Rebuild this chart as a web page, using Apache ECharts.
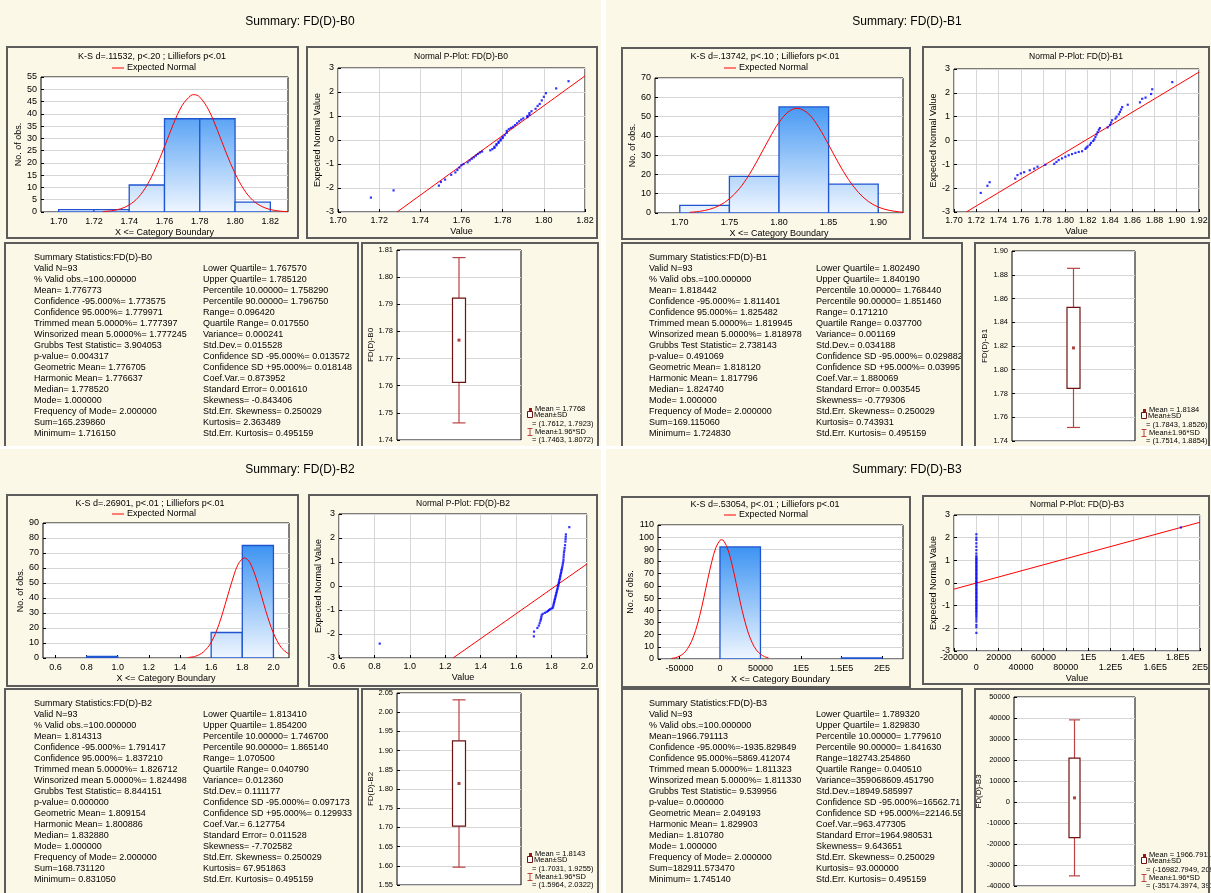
<!DOCTYPE html>
<html>
<head>
<meta charset="utf-8">
<script src="https://cdn.jsdelivr.net/npm/echarts@6/dist/echarts.min.js"></script>
<style>
html, body { margin: 0; padding: 0; background: #fff; }
#main { width: 1211px; height: 893px; }
</style>
</head>
<body>
<div id="main"></div>
<script>
// ---------------- data ----------------
var panelNames = ['FD(D)-B0', 'FD(D)-B1', 'FD(D)-B2', 'FD(D)-B3'];
var ksTitles = [
    'K-S d=.11532, p<.20 ; Lilliefors p<.01',
    'K-S d=.13742, p<.10 ; Lilliefors p<.01',
    'K-S d=.26901, p<.01 ; Lilliefors p<.01',
    'K-S d=.53054, p<.01 ; Lilliefors p<.01'
];

// histogram bins: edges and counts
var b0Edges = [1.70, 1.72, 1.74, 1.76, 1.78, 1.80, 1.82];
var b0Counts = [1, 1, 11, 38, 38, 4];
var b1Edges = [1.70, 1.75, 1.80, 1.85, 1.90];
var b1Counts = [4, 19, 55, 15];
var b2Edges = [0.8, 1.0, 1.2, 1.4, 1.6, 1.8, 2.0];
var b2Counts = [1, 0, 0, 0, 17, 75];
var b3Edges = [0, 50000, 100000, 150000, 200000];
var b3Counts = [92, 0, 0, 1];

// histogram x tick values and labels
var b0HistTicks = [1.70, 1.72, 1.74, 1.76, 1.78, 1.80, 1.82];
var b0HistLabels = ['1.70', '1.72', '1.74', '1.76', '1.78', '1.80', '1.82'];
var b1HistTicks = [1.70, 1.75, 1.80, 1.85, 1.90];
var b1HistLabels = ['1.70', '1.75', '1.80', '1.85', '1.90'];
var b2HistTicks = [0.6, 0.8, 1.0, 1.2, 1.4, 1.6, 1.8, 2.0];
var b2HistLabels = ['0.6', '0.8', '1.0', '1.2', '1.4', '1.6', '1.8', '2.0'];
var b3HistTicks = [-50000, 0, 50000, 100000, 150000, 200000];
var b3HistLabels = ['-50000', '0', '50000', '1E5', '1.5E5', '2E5'];

// expected normal curves
var b0CurveX = [1.725, 1.730, 1.735, 1.740, 1.745, 1.750, 1.755, 1.760, 1.765, 1.770, 1.775, 1.7768, 1.780, 1.785, 1.790, 1.795, 1.800, 1.805, 1.810, 1.815, 1.820, 1.825, 1.830];
var b0CurveY = [0.18, 0.51, 1.27, 2.87, 5.85, 10.8, 17.9, 26.6, 35.8, 43.4, 47.5, 47.8, 46.8, 41.6, 33.3, 24.0, 15.7, 9.2, 4.8, 2.3, 1.0, 0.39, 0.13];
var b1CurveX = [1.71, 1.72, 1.73, 1.74, 1.75, 1.76, 1.77, 1.78, 1.79, 1.80, 1.81, 1.8184, 1.83, 1.84, 1.85, 1.86, 1.87, 1.88, 1.89, 1.90, 1.91, 1.92, 1.925];
var b1CurveY = [0.35, 0.86, 1.92, 3.91, 7.35, 12.6, 19.9, 28.9, 38.4, 47.0, 52.7, 54.3, 51.3, 44.5, 35.4, 25.9, 17.4, 10.7, 6.0, 3.1, 1.5, 0.65, 0.42];
var b2CurveX = [1.45, 1.50, 1.55, 1.60, 1.65, 1.70, 1.75, 1.78, 1.8143, 1.85, 1.90, 1.95, 2.00, 2.05, 2.10];
var b2CurveY = [0.32, 1.2, 4.0, 10.4, 22.4, 39.3, 56.5, 63.6, 66.7, 63.4, 49.6, 31.7, 16.6, 7.0, 2.5];
var b3CurveX = [-60000, -55000, -50000, -45000, -40000, -35000, -30000, -25000, -20000, -15000, -10000, -5000, 0, 1967, 5000, 10000, 15000, 20000, 25000, 30000, 35000, 40000, 45000, 50000, 55000, 60000];
var b3CurveY = [0.46, 1.07, 2.3, 4.5, 8.5, 14.6, 23.6, 35.6, 50.0, 65.6, 80.2, 91.5, 97.4, 97.9, 96.7, 89.5, 77.3, 62.2, 46.8, 32.8, 21.4, 13.0, 7.4, 3.97, 1.95, 0.9];

// normal probability plots: [value, expected normal value]
var b0Pplot = [[1.716,-2.4],[1.727,-2.1],[1.749,-1.9],[1.750,-1.75],[1.752,-1.65],[1.755,-1.45],[1.757,-1.35],[1.758,-1.25],[1.759,-1.15],[1.760,-1.05],[1.761,-1.0],[1.763,-0.93],[1.764,-0.85],[1.765,-0.78],[1.766,-0.72],[1.767,-0.65],[1.768,-0.58],[1.769,-0.52],[1.770,-0.48],[1.774,-0.43],[1.775,-0.38],[1.776,-0.33],[1.776,-0.28],[1.777,-0.22],[1.777,-0.17],[1.778,-0.12],[1.778,-0.07],[1.779,-0.02],[1.779,0.03],[1.780,0.08],[1.780,0.13],[1.781,0.2],[1.782,0.3],[1.782,0.38],[1.783,0.45],[1.784,0.5],[1.785,0.55],[1.786,0.62],[1.787,0.7],[1.788,0.78],[1.789,0.85],[1.790,0.9],[1.792,0.95],[1.792,1.0],[1.793,1.05],[1.793,1.12],[1.794,1.2],[1.796,1.3],[1.797,1.42],[1.798,1.5],[1.799,1.65],[1.800,1.8],[1.801,1.95],[1.806,2.15],[1.812,2.45]];
var b1Pplot = [[1.724,-2.2],[1.730,-1.9],[1.732,-1.75],[1.755,-1.6],[1.757,-1.45],[1.760,-1.38],[1.763,-1.33],[1.768,-1.25],[1.772,-1.18],[1.775,-1.1],[1.782,-1.02],[1.790,-0.98],[1.792,-0.9],[1.794,-0.82],[1.797,-0.75],[1.800,-0.68],[1.803,-0.62],[1.806,-0.57],[1.809,-0.52],[1.812,-0.48],[1.815,-0.45],[1.818,-0.35],[1.819,-0.3],[1.820,-0.25],[1.822,-0.18],[1.823,-0.1],[1.825,-0.02],[1.826,0.05],[1.827,0.15],[1.828,0.25],[1.829,0.35],[1.830,0.45],[1.831,0.52],[1.838,0.55],[1.840,0.65],[1.841,0.75],[1.842,0.85],[1.845,0.92],[1.846,1.0],[1.848,1.1],[1.849,1.2],[1.850,1.3],[1.851,1.4],[1.856,1.5],[1.867,1.6],[1.869,1.75],[1.872,1.8],[1.877,1.95],[1.878,2.15],[1.896,2.45]];
var b2Pplot = [[0.83,-2.4],[1.70,-2.1],[1.701,-1.9],[1.72,-1.75],[1.728,-1.65],[1.733,-1.55],[1.737,-1.45],[1.74,-1.38],[1.742,-1.3],[1.744,-1.22],[1.75,-1.16],[1.762,-1.12],[1.772,-1.08],[1.78,-1.04],[1.786,-1.0],[1.792,-0.97],[1.8,-0.94],[1.806,-0.91],[1.809,-0.85],[1.811,-0.78],[1.813,-0.72],[1.815,-0.66],[1.817,-0.6],[1.819,-0.54],[1.821,-0.48],[1.823,-0.42],[1.825,-0.36],[1.827,-0.3],[1.829,-0.24],[1.831,-0.18],[1.833,-0.12],[1.835,-0.06],[1.837,0.0],[1.839,0.06],[1.841,0.12],[1.842,0.18],[1.844,0.24],[1.846,0.3],[1.848,0.36],[1.849,0.42],[1.851,0.48],[1.853,0.54],[1.855,0.6],[1.856,0.66],[1.858,0.72],[1.86,0.78],[1.862,0.86],[1.864,0.94],[1.866,1.02],[1.867,1.1],[1.868,1.2],[1.869,1.3],[1.87,1.4],[1.872,1.48],[1.874,1.58],[1.876,1.7],[1.878,1.85],[1.879,1.95],[1.88,2.05],[1.881,2.15],[1.9,2.45]];
var b3Pplot = [[1.745,-2.2],[1.752,-1.95],[1.758,-1.85],[1.762,-1.7],[1.766,-1.6],[1.769,-1.5],[1.772,-1.42],[1.775,-1.35],[1.777,-1.28],[1.779,-1.22],[1.781,-1.16],[1.783,-1.1],[1.785,-1.04],[1.787,-0.98],[1.789,-0.92],[1.791,-0.86],[1.793,-0.8],[1.795,-0.74],[1.797,-0.68],[1.799,-0.62],[1.801,-0.56],[1.803,-0.5],[1.805,-0.44],[1.807,-0.38],[1.808,-0.32],[1.809,-0.26],[1.810,-0.2],[1.811,-0.14],[1.812,-0.08],[1.813,-0.02],[1.814,0.04],[1.815,0.1],[1.817,0.16],[1.818,0.22],[1.819,0.28],[1.820,0.34],[1.822,0.4],[1.823,0.46],[1.824,0.52],[1.826,0.58],[1.827,0.64],[1.828,0.7],[1.830,0.76],[1.831,0.82],[1.833,0.88],[1.834,0.94],[1.836,1.0],[1.838,1.06],[1.839,1.12],[1.841,1.18],[1.843,1.3],[1.846,1.45],[1.849,1.6],[1.852,1.75],[1.856,1.9],[1.86,2.0],[1.866,2.15],[182911.57,2.45]];

// reference lines of the P-plots (two end points each)
var b0RefLine = [[1.7287, -3], [1.82, 2.67]];
var b1RefLine = [[1.711, -3], [1.92, 2.87]];
var b2RefLine = [[1.244, -3], [2.0, 0.92]];
var b3RefLine = [[-20000, -0.27], [200000, 2.68]];

var b3PplotLabels = ['-20000', '0', '20000', '40000', '60000', '80000', '1E5', '1.2E5', '1.4E5', '1.6E5', '1.8E5', '2E5'];

// box plots: mean-1.96SD, mean-SD, mean, mean+SD, mean+1.96SD
var b0BoxVals = [1.7463, 1.7612, 1.7768, 1.7923, 1.8072];
var b1BoxVals = [1.7514, 1.7843, 1.8184, 1.8526, 1.8854];
var b2BoxVals = [1.5964, 1.7031, 1.8143, 1.9255, 2.0322];
var b3BoxVals = [-35174.3974, -16982.7949, 1966.7911, 20916.3771, 39107.9797];

// summary statistics texts
var b0StatsLeft = ['Summary Statistics:FD(D)-B0', 'Valid N=93', '% Valid obs.=100.000000', 'Mean= 1.776773', 'Confidence -95.000%= 1.773575', 'Confidence 95.000%= 1.779971', 'Trimmed mean 5.0000%= 1.777397', 'Winsorized mean 5.0000%= 1.777245', 'Grubbs Test Statistic= 3.904053', 'p-value= 0.004317', 'Geometric Mean= 1.776705', 'Harmonic Mean= 1.776637', 'Median= 1.778520', 'Mode= 1.000000', 'Frequency of Mode= 2.000000', 'Sum=165.239860', 'Minimum= 1.716150'];
var b0StatsRight = ['Lower Quartile= 1.767570', 'Upper Quartile= 1.785120', 'Percentile 10.00000= 1.758290', 'Percentile 90.00000= 1.796750', 'Range= 0.096420', 'Quartile Range= 0.017550', 'Variance= 0.000241', 'Std.Dev.= 0.015528', 'Confidence SD -95.000%= 0.013572', 'Confidence SD +95.000%= 0.018148', 'Coef.Var.= 0.873952', 'Standard Error= 0.001610', 'Skewness= -0.843406', 'Std.Err. Skewness= 0.250029', 'Kurtosis= 2.363489', 'Std.Err. Kurtosis= 0.495159'];
var b1StatsLeft = ['Summary Statistics:FD(D)-B1', 'Valid N=93', '% Valid obs.=100.000000', 'Mean= 1.818442', 'Confidence -95.000%= 1.811401', 'Confidence 95.000%= 1.825482', 'Trimmed mean 5.0000%= 1.819945', 'Winsorized mean 5.0000%= 1.818978', 'Grubbs Test Statistic= 2.738143', 'p-value= 0.491069', 'Geometric Mean= 1.818120', 'Harmonic Mean= 1.817796', 'Median= 1.824740', 'Mode= 1.000000', 'Frequency of Mode= 2.000000', 'Sum=169.115060', 'Minimum= 1.724830'];
var b1StatsRight = ['Lower Quartile= 1.802490', 'Upper Quartile= 1.840190', 'Percentile 10.00000= 1.768440', 'Percentile 90.00000= 1.851460', 'Range= 0.171210', 'Quartile Range= 0.037700', 'Variance= 0.001169', 'Std.Dev.= 0.034188', 'Confidence SD -95.000%= 0.029882', 'Confidence SD +95.000%= 0.039956', 'Coef.Var.= 1.880069', 'Standard Error= 0.003545', 'Skewness= -0.779306', 'Std.Err. Skewness= 0.250029', 'Kurtosis= 0.743931', 'Std.Err. Kurtosis= 0.495159'];
var b2StatsLeft = ['Summary Statistics:FD(D)-B2', 'Valid N=93', '% Valid obs.=100.000000', 'Mean= 1.814313', 'Confidence -95.000%= 1.791417', 'Confidence 95.000%= 1.837210', 'Trimmed mean 5.0000%= 1.826712', 'Winsorized mean 5.0000%= 1.824498', 'Grubbs Test Statistic= 8.844151', 'p-value= 0.000000', 'Geometric Mean= 1.809154', 'Harmonic Mean= 1.800886', 'Median= 1.832880', 'Mode= 1.000000', 'Frequency of Mode= 2.000000', 'Sum=168.731120', 'Minimum= 0.831050'];
var b2StatsRight = ['Lower Quartile= 1.813410', 'Upper Quartile= 1.854200', 'Percentile 10.00000= 1.746700', 'Percentile 90.00000= 1.865140', 'Range= 1.070500', 'Quartile Range= 0.040790', 'Variance= 0.012360', 'Std.Dev.= 0.111177', 'Confidence SD -95.000%= 0.097173', 'Confidence SD +95.000%= 0.129933', 'Coef.Var.= 6.127754', 'Standard Error= 0.011528', 'Skewness= -7.702582', 'Std.Err. Skewness= 0.250029', 'Kurtosis= 67.951863', 'Std.Err. Kurtosis= 0.495159'];
var b3StatsLeft = ['Summary Statistics:FD(D)-B3', 'Valid N=93', '% Valid obs.=100.000000', 'Mean=1966.791113', 'Confidence -95.000%=-1935.829849', 'Confidence 95.000%=5869.412074', 'Trimmed mean 5.0000%= 1.811323', 'Winsorized mean 5.0000%= 1.811330', 'Grubbs Test Statistic= 9.539956', 'p-value= 0.000000', 'Geometric Mean= 2.049193', 'Harmonic Mean= 1.829903', 'Median= 1.810780', 'Mode= 1.000000', 'Frequency of Mode= 2.000000', 'Sum=182911.573470', 'Minimum= 1.745140'];
var b3StatsRight = ['Lower Quartile= 1.789320', 'Upper Quartile= 1.829830', 'Percentile 10.00000= 1.779610', 'Percentile 90.00000= 1.841630', 'Range=182743.254860', 'Quartile Range= 0.040510', 'Variance=359068609.451790', 'Std.Dev.=18949.585997', 'Confidence SD -95.000%=16562.716183', 'Confidence SD +95.000%=22146.592054', 'Coef.Var.=963.477305', 'Standard Error=1964.980531', 'Skewness= 9.643651', 'Std.Err. Skewness= 0.250029', 'Kurtosis= 93.000000', 'Std.Err. Kurtosis= 0.495159'];

// ---------------- layout ----------------
var FONT = '"Liberation Sans", Arial, Helvetica, sans-serif';
var BG = '#fcf8e7';
var LINE_H = 11;

var layouts = [
    { title: [300, 22], frames: [[7, 47, 291, 191], [307, 47, 290, 191], [5, 243, 353, 204], [362, 243, 236, 204]],
      hist: [41, 77, 247, 135], pplot: [338, 68, 247, 144], box: [397, 250, 124, 190],
      ks: [152, 57], leg: [112, 68], ptitle: [461, 57], stats: [34, 252], statsRight: [203, 154],
      gaps: { hy: 18, hx: 15, py: 14, px: 15, by: 21 }, boxW: 13 },
    { title: [907, 22], frames: [[622, 48, 288, 191], [923, 47, 286, 191], [622, 243, 340, 204], [975, 243, 234, 204]],
      hist: [655, 78, 248, 135], pplot: [954, 69, 245, 143], box: [1012, 251, 123, 190],
      ks: [765, 57], leg: [724, 68], ptitle: [1076, 57], stats: [649, 252], statsRight: [816, 148],
      gaps: { hy: 16, hx: 15, py: 15, px: 15, by: 23 }, boxW: 13 },
    { title: [300, 470], frames: [[7, 495, 291, 191], [309, 495, 288, 191], [5, 689, 353, 210], [362, 689, 236, 210]],
      hist: [43, 523, 246, 135], pplot: [339, 514, 248, 144], box: [397, 693, 124, 192],
      ks: [150, 504], leg: [112, 514], ptitle: [463, 504], stats: [34, 698], statsRight: [203, 154],
      gaps: { hy: 18, hx: 15, py: 13, px: 15, by: 21 }, boxW: 13 },
    { title: [907, 470], frames: [[622, 497, 288, 190], [923, 496, 286, 188], [622, 689, 340, 210], [975, 689, 234, 210]],
      hist: [658, 525, 245, 134], pplot: [954, 515, 246, 136], box: [1014, 697, 121, 189],
      ks: [765, 505], leg: [724, 515], ptitle: [1077, 505], stats: [649, 698], statsRight: [816, 148],
      gaps: { hy: 20, hx: 15, py: 15, px: 23, by: 23 }, boxW: 11 }
];

var allEdges = [b0Edges, b1Edges, b2Edges, b3Edges];
var allCounts = [b0Counts, b1Counts, b2Counts, b3Counts];
var histRange = [[1.69, 1.83], [1.675, 1.925], [0.52, 2.1], [-76500, 226000]];
var histYMax = [55, 70, 90, 110];
var histYStep = [5, 10, 10, 10];
var histTicks = [b0HistTicks, b1HistTicks, b2HistTicks, b3HistTicks];
var histLabels = [b0HistLabels, b1HistLabels, b2HistLabels, b3HistLabels];
var curveX = [b0CurveX, b1CurveX, b2CurveX, b3CurveX];
var curveY = [b0CurveY, b1CurveY, b2CurveY, b3CurveY];
var pplots = [b0Pplot, b1Pplot, b2Pplot, b3Pplot];
var refLines = [b0RefLine, b1RefLine, b2RefLine, b3RefLine];
var pplotRange = [[1.70, 1.82, 0.02], [1.70, 1.92, 0.02], [0.6, 2.0, 0.2], [-20000, 200000, 20000]];
var boxVals = [b0BoxVals, b1BoxVals, b2BoxVals, b3BoxVals];
var boxRange = [[1.74, 1.81, 0.01], [1.74, 1.90, 0.02], [1.55, 2.05, 0.05], [-40000, 50000, 10000]];
var statsLeft = [b0StatsLeft, b1StatsLeft, b2StatsLeft, b3StatsLeft];
var statsRight = [b0StatsRight, b1StatsRight, b2StatsRight, b3StatsRight];

// ---------------- build ----------------
var grid = [], xAxis = [], yAxis = [], series = [], graphics = [];

function addGrid(r) {
    grid.push({ left: r[0], top: r[1], width: r[2], height: r[3], show: true, backgroundColor: '#fff',
        borderColor: '#000', borderWidth: 1, containLabel: false, outerBoundsMode: 'none' });
    return grid.length - 1;
}

function valueAxis(gi, o) {
    var ax = {
        type: 'value', gridIndex: gi, min: o.min, max: o.max,
        axisLine: { show: false, onZero: false },
        axisTick: { show: true, inside: true, length: 3, lineStyle: { color: '#000' } },
        axisLabel: { fontFamily: FONT, fontSize: o.fontSize || 9, color: '#000', margin: o.margin || 4,
            formatter: o.formatter, showMinLabel: true, showMaxLabel: true, lineHeight: o.lineHeight || 11 },
        splitLine: o.split ? { show: true, lineStyle: { color: '#d6d6d6', width: 1 } } : { show: false },
        name: o.name || '', nameLocation: 'middle', nameGap: o.gap || 15,
        nameTextStyle: { fontFamily: FONT, fontSize: o.nameSize || 9, color: '#000' }
    };
    if (o.interval != null) ax.interval = o.interval;
    if (o.ticks) {
        ax.axisTick.customValues = o.ticks;
        ax.axisLabel.customValues = o.ticks;
    }
    return ax;
}

function lookupLabel(ticks, labels) {
    return function (v) {
        for (var i = 0; i < ticks.length; i++) {
            if (Math.abs(ticks[i] - v) < 1e-6 * (1 + Math.abs(v))) return labels[i];
        }
        return '';
    };
}

function fixed(d) { return function (v) { return v.toFixed(d); }; }

function renderBin(params, api) {
    var lo = api.coord([api.value(0), 0]);
    var hi = api.coord([api.value(1), api.value(2)]);
    var cs = params.coordSys;
    return {
        type: 'rect',
        shape: { x: lo[0], y: hi[1], width: hi[0] - lo[0], height: lo[1] - hi[1] },
        style: {
            fill: new echarts.graphic.LinearGradient(0, cs.y, 0, cs.y + cs.height,
                [{ offset: 0, color: '#1a80f0' }, { offset: 1, color: '#eff6ff' }], true),
            stroke: '#1f55d0', lineWidth: 1.3
        }
    };
}

// box: whiskers (mean +-1.96 SD) and box (mean +- SD)
function makeBoxRenderer(w) {
    return function (params, api) {
        var c = api.coord([api.value(0), api.value(1)]);
        var x = c[0];
        var yWl = c[1];
        var yBl = api.coord([api.value(0), api.value(2)])[1];
        var yBh = api.coord([api.value(0), api.value(4)])[1];
        var yWh = api.coord([api.value(0), api.value(5)])[1];
        var wStyle = { stroke: '#b84444', lineWidth: 1.2 };
        return {
            type: 'group',
            children: [
                { type: 'line', shape: { x1: x, y1: yWl, x2: x, y2: yBl }, style: wStyle },
                { type: 'line', shape: { x1: x, y1: yBh, x2: x, y2: yWh }, style: wStyle },
                { type: 'line', shape: { x1: x - w / 2, y1: yWl, x2: x + w / 2, y2: yWl }, style: wStyle },
                { type: 'line', shape: { x1: x - w / 2, y1: yWh, x2: x + w / 2, y2: yWh }, style: wStyle },
                { type: 'rect', shape: { x: x - w / 2, y: yBh, width: w, height: yBl - yBh },
                  style: { fill: '#fff', stroke: '#6e1212', lineWidth: 1.2 } }
            ]
        };
    };
}

function txt(x, y, s, size, align, extra) {
    var st = { text: s, fill: '#000', fontFamily: FONT, fontSize: size,
        align: align || 'center', textAlign: align || 'center',
        verticalAlign: 'middle', textVerticalAlign: 'middle' };
    for (var k in extra || {}) st[k] = extra[k];
    return { type: 'text', x: x, y: y, z: 5, silent: true, style: st };
}

// quadrant backgrounds
[[0, 0, 601, 446], [606, 0, 605, 446], [0, 449, 601, 444], [606, 449, 605, 444]].forEach(function (r) {
    graphics.push({ type: 'rect', z: -100, silent: true, shape: { x: r[0], y: r[1], width: r[2], height: r[3] }, style: { fill: BG } });
});

for (var p = 0; p < 4; p++) {
    var L = layouts[p];

    // ---- histogram ----
    var gh = addGrid(L.hist);
    xAxis.push(valueAxis(gh, { min: histRange[p][0], max: histRange[p][1], ticks: histTicks[p],
        formatter: lookupLabel(histTicks[p], histLabels[p]), name: 'X <= Category Boundary', gap: L.gaps.hx }));
    yAxis.push(valueAxis(gh, { min: 0, max: histYMax[p], interval: histYStep[p], split: true,
        name: 'No. of obs.', gap: L.gaps.hy }));
    var bins = [];
    for (var i = 0; i < allCounts[p].length; i++) {
        if (allCounts[p][i] > 0) bins.push([allEdges[p][i], allEdges[p][i + 1], allCounts[p][i]]);
    }
    series.push({ type: 'custom', xAxisIndex: gh, yAxisIndex: gh, renderItem: renderBin, data: bins,
        encode: { x: [0, 1], y: 2 }, clip: true, silent: true });
    var curve = curveX[p].map(function (x, j) { return [x, curveY[p][j]]; });
    series.push({ type: 'line', xAxisIndex: gh, yAxisIndex: gh, data: curve, smooth: 0.35, showSymbol: false,
        lineStyle: { color: '#ff0000', width: 1 }, clip: true, silent: true, z: 4 });

    // ---- normal p-plot ----
    var gp = addGrid(L.pplot);
    var pr = pplotRange[p];
    var pfmt = p < 2 ? fixed(2) : (p === 2 ? fixed(1) : function (v) {
        var idx = Math.round((v - (-20000)) / 20000);
        var s = b3PplotLabels[idx] || '';
        return idx % 2 === 1 ? '\n' + s : s;
    });
    xAxis.push(valueAxis(gp, { min: pr[0], max: pr[1], interval: pr[2], split: true, formatter: pfmt,
        name: 'Value', gap: L.gaps.px, margin: p === 3 ? 2 : 4, lineHeight: 10 }));
    yAxis.push(valueAxis(gp, { min: -3, max: 3, interval: 1, split: true, name: 'Expected Normal Value', gap: L.gaps.py }));
    series.push({ type: 'line', xAxisIndex: gp, yAxisIndex: gp, data: refLines[p], showSymbol: false,
        lineStyle: { color: '#ff0000', width: 1 }, silent: true, z: 3 });
    series.push({ type: 'scatter', xAxisIndex: gp, yAxisIndex: gp, data: pplots[p], symbol: 'rect', symbolSize: 2.2,
        itemStyle: { color: '#0000ff' }, silent: true, z: 4 });

    // ---- box plot ----
    var gb = addGrid(L.box);
    var br = boxRange[p];
    var bv = boxVals[p];
    xAxis.push({ type: 'category', gridIndex: gb, data: [''], axisLine: { show: false, onZero: false }, axisTick: { show: false },
        axisLabel: { show: false }, splitLine: { show: false } });
    yAxis.push(valueAxis(gb, { min: br[0], max: br[1], interval: br[2], split: true, fontSize: 7.5, margin: 4,
        formatter: p === 3 ? function (v) { return String(v); } : fixed(2),
        name: panelNames[p], nameSize: 8, gap: L.gaps.by }));
    series.push({ type: 'custom', xAxisIndex: gb, yAxisIndex: gb, renderItem: makeBoxRenderer(L.boxW),
        data: [[0, bv[0], bv[1], bv[2], bv[3], bv[4]]], encode: { x: 0, y: [1, 2, 3, 4, 5] }, silent: true, z: 3 });
    series.push({ type: 'scatter', xAxisIndex: gb, yAxisIndex: gb, data: [[0, bv[2]]], symbol: 'rect', symbolSize: 3,
        itemStyle: { color: '#9a1515' }, silent: true, z: 4 });

    // ---- frames and texts ----
    L.frames.forEach(function (r) {
        graphics.push({ type: 'rect', z: 6, silent: true, shape: { x: r[0], y: r[1], width: r[2], height: r[3] },
            style: { fill: 'none', stroke: '#5c5c5c', lineWidth: 2 } });
    });
    graphics.push(txt(L.title[0], L.title[1], 'Summary: ' + panelNames[p], 12));
    graphics.push(txt(L.ks[0], L.ks[1], ksTitles[p], 9));
    graphics.push({ type: 'line', z: 5, silent: true, shape: { x1: L.leg[0], y1: L.leg[1], x2: L.leg[0] + 12, y2: L.leg[1] },
        style: { stroke: '#ff0000', lineWidth: 1 } });
    graphics.push(txt(L.leg[0] + 15, L.leg[1], 'Expected Normal', 9, 'left'));
    graphics.push(txt(L.ptitle[0], L.ptitle[1], 'Normal P-Plot: ' + panelNames[p], 8.5));

    graphics.push(txt(L.stats[0], L.stats[1], statsLeft[p].join('\n'), 9, 'left',
        { verticalAlign: 'top', textVerticalAlign: 'top', lineHeight: LINE_H }));
    graphics.push(txt(L.statsRight[0], L.stats[1] + LINE_H, statsRight[p].join('\n'), 9, 'left',
        { verticalAlign: 'top', textVerticalAlign: 'top', lineHeight: LINE_H, width: L.statsRight[1], overflow: 'truncate', ellipsis: '' }));

    // box plot legend
    var lx = L.box[0] + L.box[2] + 7;
    var by = L.box[1] + L.box[3];
    graphics.push({ type: 'rect', z: 5, silent: true, shape: { x: lx + 1, y: by - 32, width: 3, height: 3 }, style: { fill: '#9a1515' } });
    graphics.push(txt(lx + 7, by - 31, 'Mean = ' + bv[2], 7.5, 'left'));
    graphics.push({ type: 'rect', z: 5, silent: true, shape: { x: lx - 0.5, y: by - 28.5, width: 5, height: 6 }, style: { fill: '#fff', stroke: '#6e1212', lineWidth: 1 } });
    graphics.push(txt(lx + 6, by - 25, 'Mean±SD', 7.5, 'left'));
    graphics.push(txt(lx + 4, by - 16, '= (' + bv[1] + ', ' + bv[3] + ')', 7.5, 'left'));
    graphics.push({ type: 'polyline', z: 5, silent: true, shape: { points: [[lx - 0.5, by - 11.5], [lx + 4.5, by - 11.5]] }, style: { stroke: '#b84444', lineWidth: 1 } });
    graphics.push({ type: 'polyline', z: 5, silent: true, shape: { points: [[lx + 2, by - 11.5], [lx + 2, by - 4.5]] }, style: { stroke: '#b84444', lineWidth: 1 } });
    graphics.push({ type: 'polyline', z: 5, silent: true, shape: { points: [[lx - 0.5, by - 4.5], [lx + 4.5, by - 4.5]] }, style: { stroke: '#b84444', lineWidth: 1 } });
    graphics.push(txt(lx + 7, by - 8, 'Mean±1.96*SD', 7.5, 'left'));
    graphics.push(txt(lx + 4, by, '= (' + bv[0] + ', ' + bv[4] + ')', 7.5, 'left'));
}

// white strips between the quadrants (also hide overflowing text)
graphics.push({ type: 'rect', z: 7, silent: true, shape: { x: 0, y: 446, width: 1211, height: 3 }, style: { fill: '#fff' } });
graphics.push({ type: 'rect', z: 7, silent: true, shape: { x: 601, y: 0, width: 5, height: 893 }, style: { fill: '#fff' } });

var chart = echarts.init(document.getElementById('main'));
chart.setOption({
    animation: false,
    backgroundColor: '#fff',
    grid: grid,
    xAxis: xAxis,
    yAxis: yAxis,
    series: series,
    graphic: { elements: graphics }
});
</script>
</body>
</html>
